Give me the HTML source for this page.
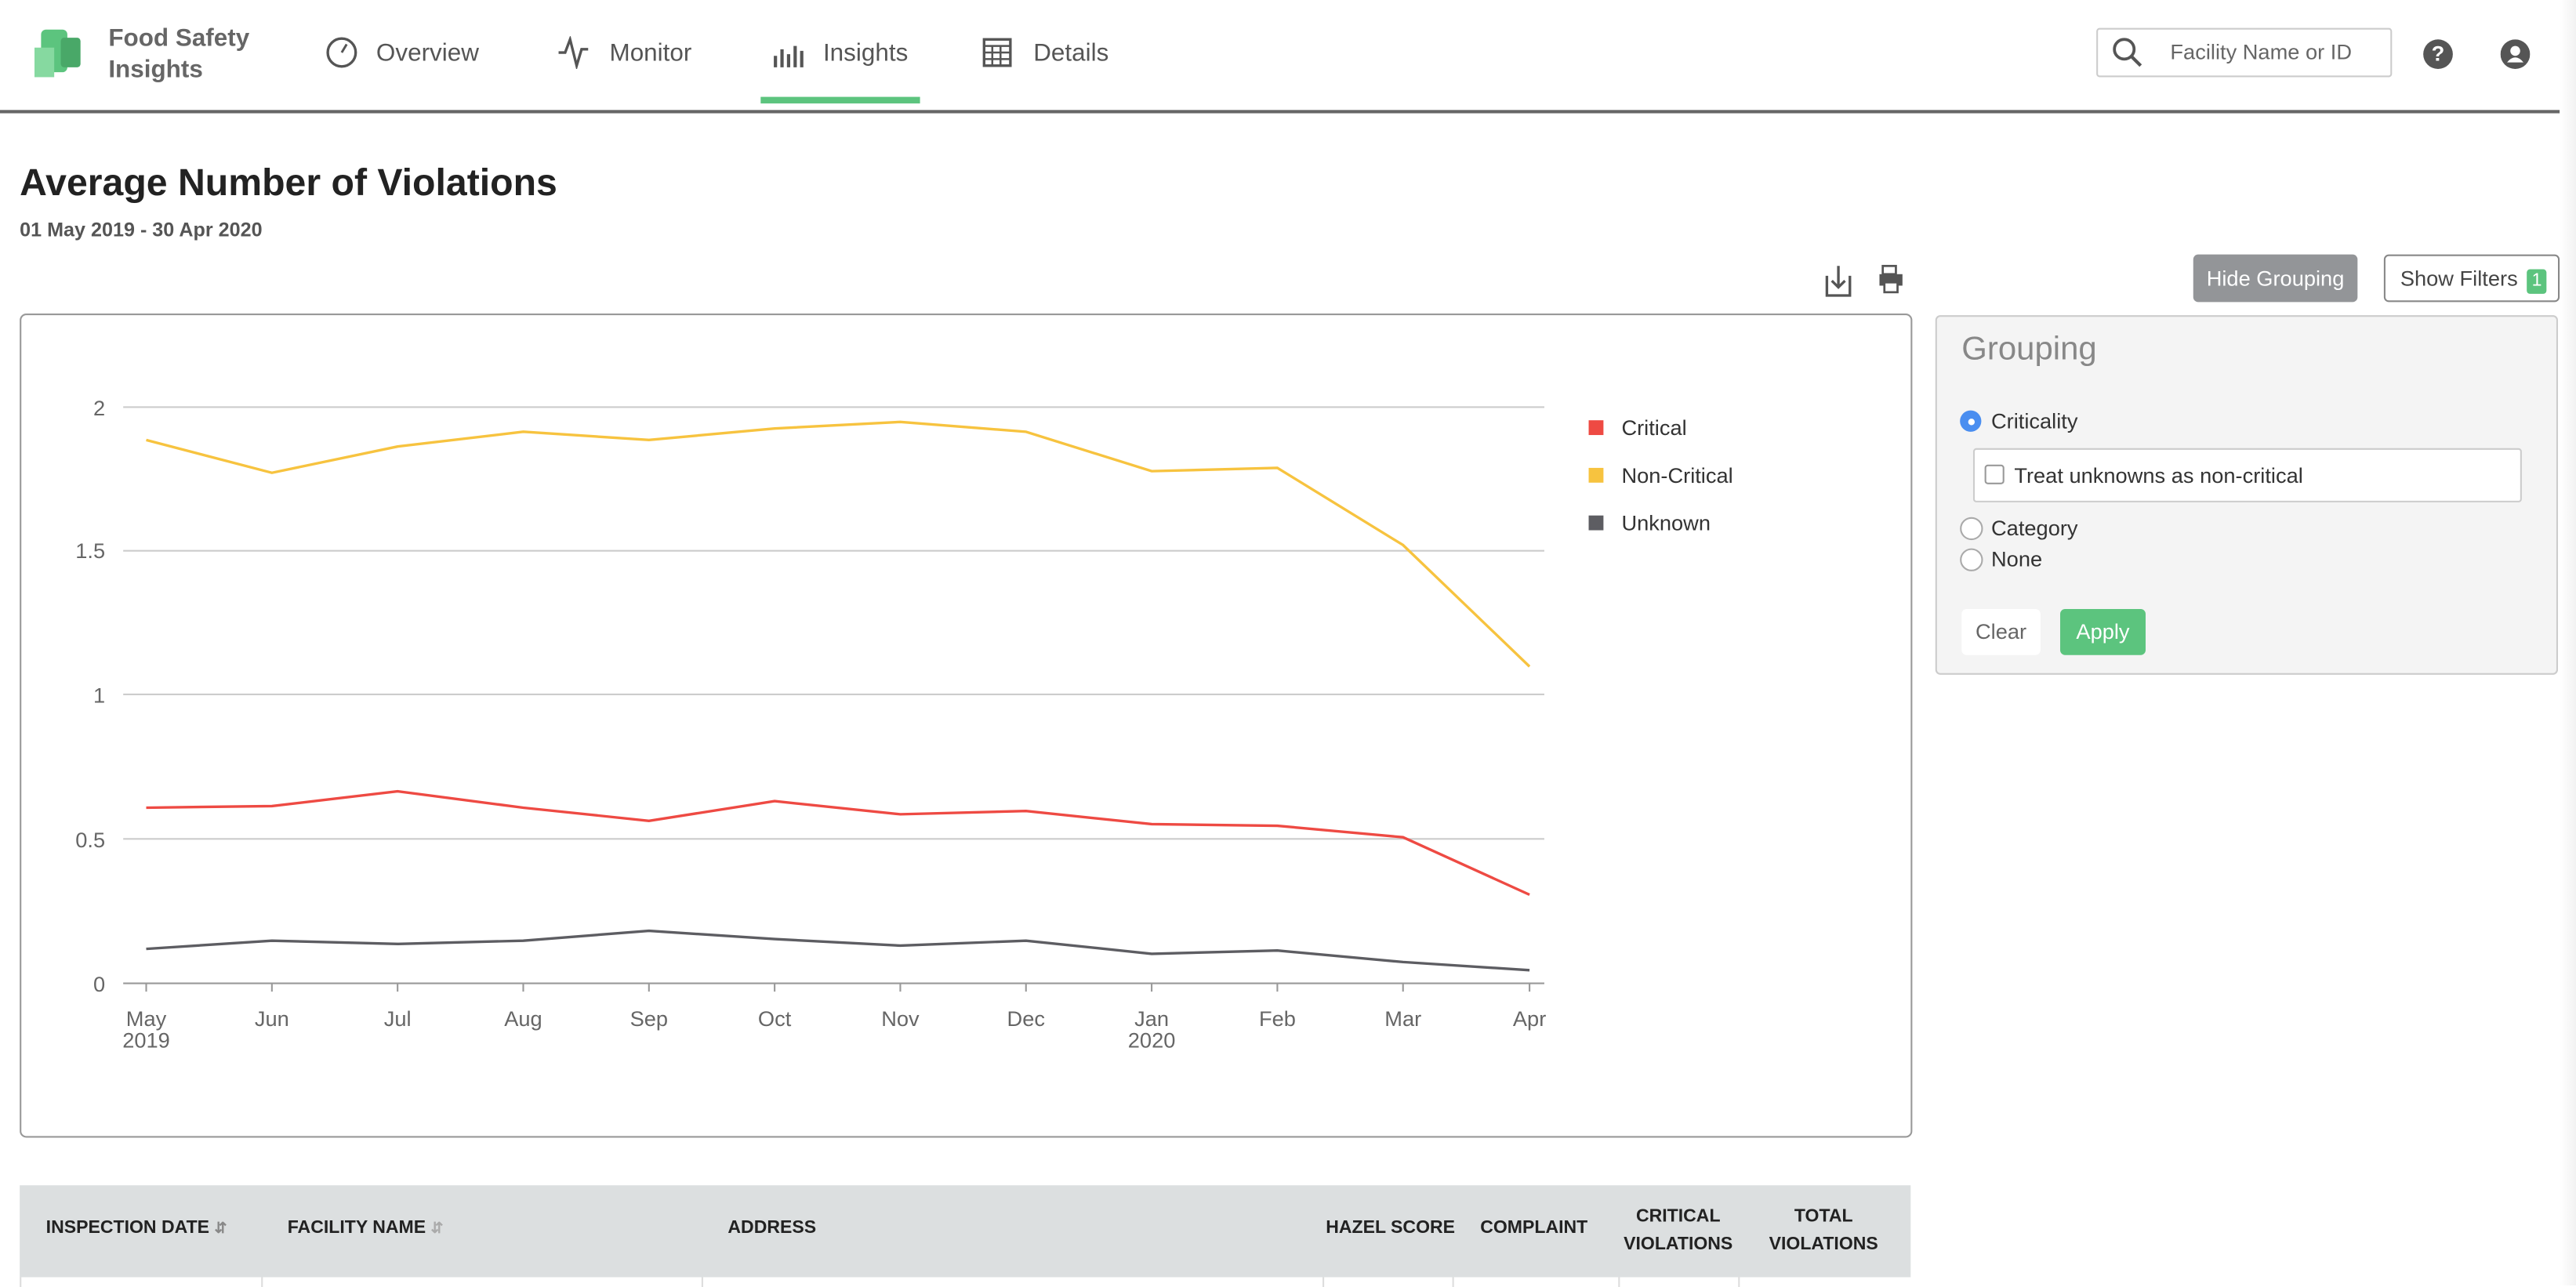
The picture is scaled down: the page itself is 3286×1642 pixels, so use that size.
<!DOCTYPE html>
<html><head><meta charset="utf-8">
<style>
html,body{margin:0;padding:0;background:#fff;overflow:hidden}
body{width:3286px;height:1640px}
#w{position:absolute;left:0;top:0;width:1568px;height:783px;transform:scale(2.0957,2.0945);transform-origin:0 0;font-family:"Liberation Sans",sans-serif;color:#222}
.a{position:absolute}
.nav{font-size:15px;color:#555}
</style></head><body><div id="w">
<!-- header -->
<div class="a" style="left:25px;top:18px;width:16px;height:26px;background:#5cc47e;border-radius:3px"></div>
<div class="a" style="left:21px;top:29px;width:12px;height:18px;background:#86d9a0"></div>
<div class="a" style="left:37px;top:23px;width:12px;height:18px;background:#49a868;border-radius:2px"></div>
<div class="a" style="left:66px;top:14px;font-size:15px;font-weight:bold;color:#666;line-height:19px">Food Safety<br>Insights</div>
<svg class="a" style="left:198px;top:22px" width="20" height="20"><circle cx="10" cy="10" r="8.5" fill="none" stroke="#555" stroke-width="1.6"/><path d="M10 10 L13 5" stroke="#555" stroke-width="1.4"/></svg>
<div class="a nav" style="left:229px;top:24px">Overview</div>
<svg class="a" style="left:339px;top:22px" width="20" height="20"><path d="M1 10 L5 10 L8 2 L12 18 L15 8 L19 8" fill="none" stroke="#555" stroke-width="1.6"/></svg>
<div class="a nav" style="left:371px;top:24px">Monitor</div>
<svg class="a" style="left:470px;top:22px" width="20" height="20"><path d="M2 19V12M6 19V8M10 19V11M14 19V6M18 19V9" stroke="#555" stroke-width="2"/></svg>
<div class="a nav" style="left:501px;top:24px">Insights</div>
<div class="a" style="left:463px;top:59px;width:97px;height:4px;background:#5cc47e"></div>
<svg class="a" style="left:598px;top:23px" width="18" height="18"><rect x="1" y="1" width="16" height="16" fill="none" stroke="#555" stroke-width="1.6"/><path d="M1 5H17M1 9H17M1 13H17M6 5V17M11 5V17" stroke="#555" stroke-width="1.2"/></svg>
<div class="a nav" style="left:629px;top:24px">Details</div>
<div class="a" style="left:1276px;top:17px;width:178px;height:28px;border:1px solid #ccc;border-radius:2px"></div>
<svg class="a" style="left:1285px;top:22px" width="20" height="20"><circle cx="8" cy="8" r="6" fill="none" stroke="#555" stroke-width="1.8"/><path d="M12.5 12.5L18 18" stroke="#555" stroke-width="2"/></svg>
<div class="a" style="left:1321px;top:24px;font-size:13px;color:#666">Facility Name or ID</div>
<div class="a" style="left:1475px;top:24px;width:18px;height:18px;border-radius:50%;background:#555;color:#fff;font-size:13px;font-weight:bold;text-align:center;line-height:18px">?</div>
<svg class="a" style="left:1522px;top:24px" width="18" height="18"><circle cx="9" cy="9" r="9" fill="#555"/><circle cx="9" cy="7" r="3" fill="#fff"/><path d="M4 14Q9 8 14 14Z" fill="#fff"/></svg>
<div class="a" style="left:0;top:67px;width:1568px;height:1.5px;background:#666"></div>
<div class="a" style="right:0;top:0;width:10px;height:783px;background:linear-gradient(to right,#fff,#f2f2f2)"></div>
<!-- title -->
<div class="a" style="left:12px;top:98px;font-size:23px;font-weight:bold;color:#222">Average Number of Violations</div>
<div class="a" style="left:12px;top:133px;font-size:12px;font-weight:bold;color:#555">01 May 2019 - 30 Apr 2020</div>
<svg class="a" style="left:1110px;top:160px" width="60" height="22"><path d="M2 8V20H16V8M9 2V15M5 11L9 15L13 11" fill="none" stroke="#555" stroke-width="1.6"/><rect x="36" y="2" width="8" height="5" fill="none" stroke="#555" stroke-width="1.3"/><rect x="34" y="7" width="14" height="7" fill="#555"/><rect x="37" y="12" width="8" height="6" fill="#fff" stroke="#555" stroke-width="1.3"/></svg>
<div class="a" style="left:1335px;top:155px;width:100px;height:29px;background:#939598;border-radius:3px;color:#fff;font-size:13px;text-align:center;line-height:29px">Hide Grouping</div>
<div class="a" style="left:1451px;top:155px;width:104px;height:27px;border:1px solid #888;border-radius:3px;font-size:13px;color:#444;line-height:27px;padding-left:9px;box-sizing:content-box;width:96px">Show Filters <span style="display:inline-block;background:#5cc47e;color:#fff;font-size:11px;width:12px;height:15px;line-height:15px;text-align:center;border-radius:2px;margin-left:2px">1</span></div>
<!-- chart box -->
<div class="a" style="left:12px;top:191px;width:1150px;height:500px;border:1px solid #999;border-radius:4px"></div>
<svg class="a" style="left:0;top:0" width="1170" height="700">
<g stroke="#ccc" stroke-width="1"><path d="M75 248H940M75 335.5H940M75 423H940M75 511H940"/></g>
<path d="M75 599H940" stroke="#999"/>
<g stroke="#999"><path d="M89 599v5M165.5 599v5M242 599v5M318.5 599v5M395 599v5M471.5 599v5M548 599v5M624.5 599v5M701 599v5M777.5 599v5M854 599v5M931 599v5"/></g>
<g font-size="13" fill="#666" text-anchor="end" font-family="Liberation Sans"><text x="64" y="253">2</text><text x="64" y="340">1.5</text><text x="64" y="428">1</text><text x="64" y="516">0.5</text><text x="64" y="604">0</text></g>
<g font-size="13" fill="#666" text-anchor="middle" font-family="Liberation Sans"><text x="89" y="625">May</text><text x="89" y="638">2019</text><text x="165.5" y="625">Jun</text><text x="242" y="625">Jul</text><text x="318.5" y="625">Aug</text><text x="395" y="625">Sep</text><text x="471.5" y="625">Oct</text><text x="548" y="625">Nov</text><text x="624.5" y="625">Dec</text><text x="701" y="625">Jan</text><text x="701" y="638">2020</text><text x="777.5" y="625">Feb</text><text x="854" y="625">Mar</text><text x="931" y="625">Apr</text></g>
<polyline fill="none" stroke="#f7c33f" stroke-width="1.6" points="89,268 165.5,288 242,272 318.5,263 395,268 471.5,261 548,257 624.5,263 701,287 777.5,285 854,332 931,406"/>
<polyline fill="none" stroke="#ee4a43" stroke-width="1.6" points="89,492 165.5,491 242,482 318.5,492 395,500 471.5,488 548,496 624.5,494 701,502 777.5,503 854,510 931,545"/>
<polyline fill="none" stroke="#5d5d62" stroke-width="1.6" points="89,578 165.5,573 242,575 318.5,573 395,567 471.5,572 548,576 624.5,573 701,581 777.5,579 854,586 931,591"/>
<rect x="967" y="256" width="9" height="9" fill="#ee4a43"/><rect x="967" y="285" width="9" height="9" fill="#f7c33f"/><rect x="967" y="314" width="9" height="9" fill="#5d5d62"/>
<g font-size="13" fill="#333" font-family="Liberation Sans"><text x="987" y="265">Critical</text><text x="987" y="294">Non-Critical</text><text x="987" y="323">Unknown</text></g>
</svg>
<!-- grouping panel -->
<div class="a" style="left:1178px;top:192px;width:377px;height:217px;background:#f4f4f4;border:1px solid #ccc;border-radius:3px"></div>
<div class="a" style="left:1194px;top:202px;font-size:20px;color:#888">Grouping</div>
<div class="a" style="left:1193px;top:250px;width:13px;height:13px;border-radius:50%;background:#4a8ef0"><div style="margin:4.5px;width:4px;height:4px;border-radius:50%;background:#fff"></div></div>
<div class="a" style="left:1212px;top:249px;font-size:13px;color:#333">Criticality</div>
<div class="a" style="left:1201px;top:273px;width:332px;height:31px;background:#fff;border:1px solid #ccc;border-radius:2px"></div>
<div class="a" style="left:1208px;top:283px;width:10px;height:10px;border:1px solid #999;border-radius:2px;background:#fff"></div>
<div class="a" style="left:1226px;top:282px;font-size:13px;color:#333">Treat unknowns as non-critical</div>
<div class="a" style="left:1193px;top:315px;width:12px;height:12px;border-radius:50%;border:1px solid #aaa;background:#fff"></div>
<div class="a" style="left:1212px;top:314px;font-size:13px;color:#333">Category</div>
<div class="a" style="left:1193px;top:334px;width:12px;height:12px;border-radius:50%;border:1px solid #aaa;background:#fff"></div>
<div class="a" style="left:1212px;top:333px;font-size:13px;color:#333">None</div>
<div class="a" style="left:1194px;top:371px;width:48px;height:28px;background:#fff;border-radius:3px;font-size:13px;color:#666;text-align:center;line-height:28px">Clear</div>
<div class="a" style="left:1254px;top:371px;width:52px;height:28px;background:#5cc47e;border-radius:3px;font-size:13px;color:#fff;text-align:center;line-height:28px">Apply</div>
<!-- table -->
<div class="a" style="left:12px;top:722px;width:1151px;height:56px;background:#dcdfe0"></div>
<div class="a" style="left:12px;top:778px;width:1151px;height:6px;background:#fff;border-left:1px solid #ddd"></div>
<g></g>
<div class="a" style="left:159px;top:778px;width:1px;height:6px;background:#ddd"></div>
<div class="a" style="left:427px;top:778px;width:1px;height:6px;background:#ddd"></div>
<div class="a" style="left:805px;top:778px;width:1px;height:6px;background:#ddd"></div>
<div class="a" style="left:884px;top:778px;width:1px;height:6px;background:#ddd"></div>
<div class="a" style="left:985px;top:778px;width:1px;height:6px;background:#ddd"></div>
<div class="a" style="left:1058px;top:778px;width:1px;height:6px;background:#ddd"></div>
<div class="a" style="left:28px;top:742px;font-size:11px;font-weight:bold;color:#222">INSPECTION DATE <span style="color:#888;font-size:9px">&#8693;</span></div>
<div class="a" style="left:175px;top:742px;font-size:11px;font-weight:bold;color:#222">FACILITY NAME <span style="color:#aaa;font-size:9px">&#8693;</span></div>
<div class="a" style="left:443px;top:742px;font-size:11px;font-weight:bold;color:#222">ADDRESS</div>
<div class="a" style="left:807px;top:742px;font-size:11px;font-weight:bold;color:#222">HAZEL SCORE</div>
<div class="a" style="left:901px;top:742px;font-size:11px;font-weight:bold;color:#222">COMPLAINT</div>
<div class="a" style="left:985px;top:733px;width:73px;text-align:center;font-size:11px;font-weight:bold;color:#222;line-height:17px">CRITICAL<br>VIOLATIONS</div>
<div class="a" style="left:1064px;top:733px;width:92px;text-align:center;font-size:11px;font-weight:bold;color:#222;line-height:17px">TOTAL<br>VIOLATIONS</div>
</div></body></html>
